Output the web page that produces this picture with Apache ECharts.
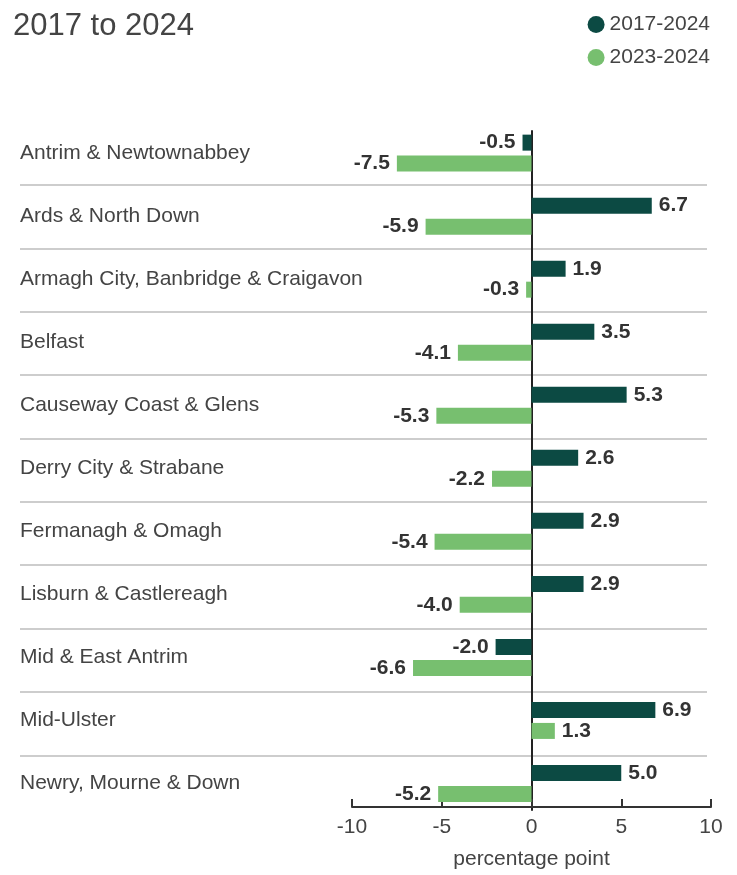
<!DOCTYPE html>
<html>
<head>
<meta charset="utf-8">
<script src="https://cdn.jsdelivr.net/npm/echarts@6/dist/echarts.min.js"></script>
<style>
  html, body { margin: 0; padding: 0; background: #fff; }
  #main { width: 737px; height: 875px; }
</style>
</head>
<body>
<div id="main"></div>
<script>
// 数据
const councils = [
  'Antrim & Newtownabbey',
  'Ards & North Down',
  'Armagh City, Banbridge & Craigavon',
  'Belfast',
  'Causeway Coast & Glens',
  'Derry City & Strabane',
  'Fermanagh & Omagh',
  'Lisburn & Castlereagh',
  'Mid & East Antrim',
  'Mid-Ulster',
  'Newry, Mourne & Down'
];
const change2017 = [-0.5, 6.7, 1.9, 3.5, 5.3, 2.6, 2.9, 2.9, -2.0, 6.9, 5.0];
const change2023 = [-7.5, -5.9, -0.3, -4.1, -5.3, -2.2, -5.4, -4.0, -6.6, 1.3, -5.2];
const xTicks = [-10, -5, 0, 5, 10];

const font = 'Liberation Sans, Arial, sans-serif';
const darkGreen = '#0c4a43';
const lightGreen = '#77bf6f';

// 正负值的标签放在柱子两侧
const withLabels = (arr) => arr.map(v => ({
  value: v,
  label: { position: v < 0 ? 'left' : 'right' }
}));

const barLabel = {
  show: true,
  distance: 7,
  fontFamily: font,
  fontSize: 21,
  fontWeight: 'bold',
  color: '#333',
  formatter: (p) => p.value.toFixed(1)
};

const chart = echarts.init(document.getElementById('main'));

const option = {
  animation: false,
  title: {
    text: '2017 to 2024',
    left: 8,
    top: 6,
    textStyle: { fontFamily: font, fontSize: 31, fontWeight: 'normal', color: '#444' }
  },
  legend: {
    orient: 'vertical',
    right: 22,
    top: 9,
    icon: 'circle',
    itemWidth: 17,
    itemHeight: 17,
    itemGap: 12,
    textStyle: { fontFamily: font, fontSize: 21, color: '#444' },
    data: ['2017-2024', '2023-2024']
  },
  grid: [
    // 分隔线
    { left: 20, right: 30, top: 185, bottom: 119.7 },
    // 柱子
    { left: 352, right: 26, top: 121.6, bottom: 56.3 },
    // 零线
    { left: 352, right: 26, top: 131, bottom: 65 }
  ],
  xAxis: [
    { gridIndex: 0, type: 'value', show: false, min: 0, max: 1 },
    {
      gridIndex: 1,
      type: 'value',
      min: xTicks[0],
      max: xTicks[xTicks.length - 1],
      interval: 5,
      offset: -8,
      axisLine: { show: true, onZero: false, lineStyle: { color: '#333', width: 2 } },
      axisTick: { show: true, inside: true, length: 8, lineStyle: { color: '#333', width: 2 } },
      axisLabel: { fontFamily: font, fontSize: 21, color: '#444', margin: 10 },
      splitLine: { show: false },
      name: 'percentage point',
      nameLocation: 'middle',
      nameGap: 42,
      nameTextStyle: { fontFamily: font, fontSize: 21, color: '#444' }
    },
    { gridIndex: 2, type: 'value', show: false, min: -10, max: 10 }
  ],
  yAxis: [
    {
      gridIndex: 0,
      type: 'value',
      min: 1,
      max: 10,
      interval: 1,
      axisLine: { show: false },
      axisTick: { show: false },
      axisLabel: { show: false },
      splitLine: { show: true, lineStyle: { color: '#bdbdbd', width: 1.5 } }
    },
    {
      gridIndex: 1,
      type: 'category',
      inverse: true,
      data: councils,
      axisLine: { show: false },
      axisTick: { show: false },
      axisLabel: { fontFamily: font, fontSize: 21, color: '#444', align: 'left', margin: 332 }
    },
    {
      gridIndex: 2,
      type: 'value',
      axisLine: { show: true, onZero: true, lineStyle: { color: '#222', width: 2 } },
      axisTick: { show: false },
      axisLabel: { show: false },
      splitLine: { show: false }
    }
  ],
  series: [
    {
      name: '2017-2024',
      type: 'bar',
      xAxisIndex: 1,
      yAxisIndex: 1,
      barWidth: 16,
      barGap: '31%',
      itemStyle: { color: darkGreen },
      label: barLabel,
      data: withLabels(change2017)
    },
    {
      name: '2023-2024',
      type: 'bar',
      xAxisIndex: 1,
      yAxisIndex: 1,
      barWidth: 16,
      barGap: '31%',
      itemStyle: { color: lightGreen },
      label: barLabel,
      data: withLabels(change2023)
    }
  ]
};

option && chart.setOption(option);
</script>
</body>
</html>
